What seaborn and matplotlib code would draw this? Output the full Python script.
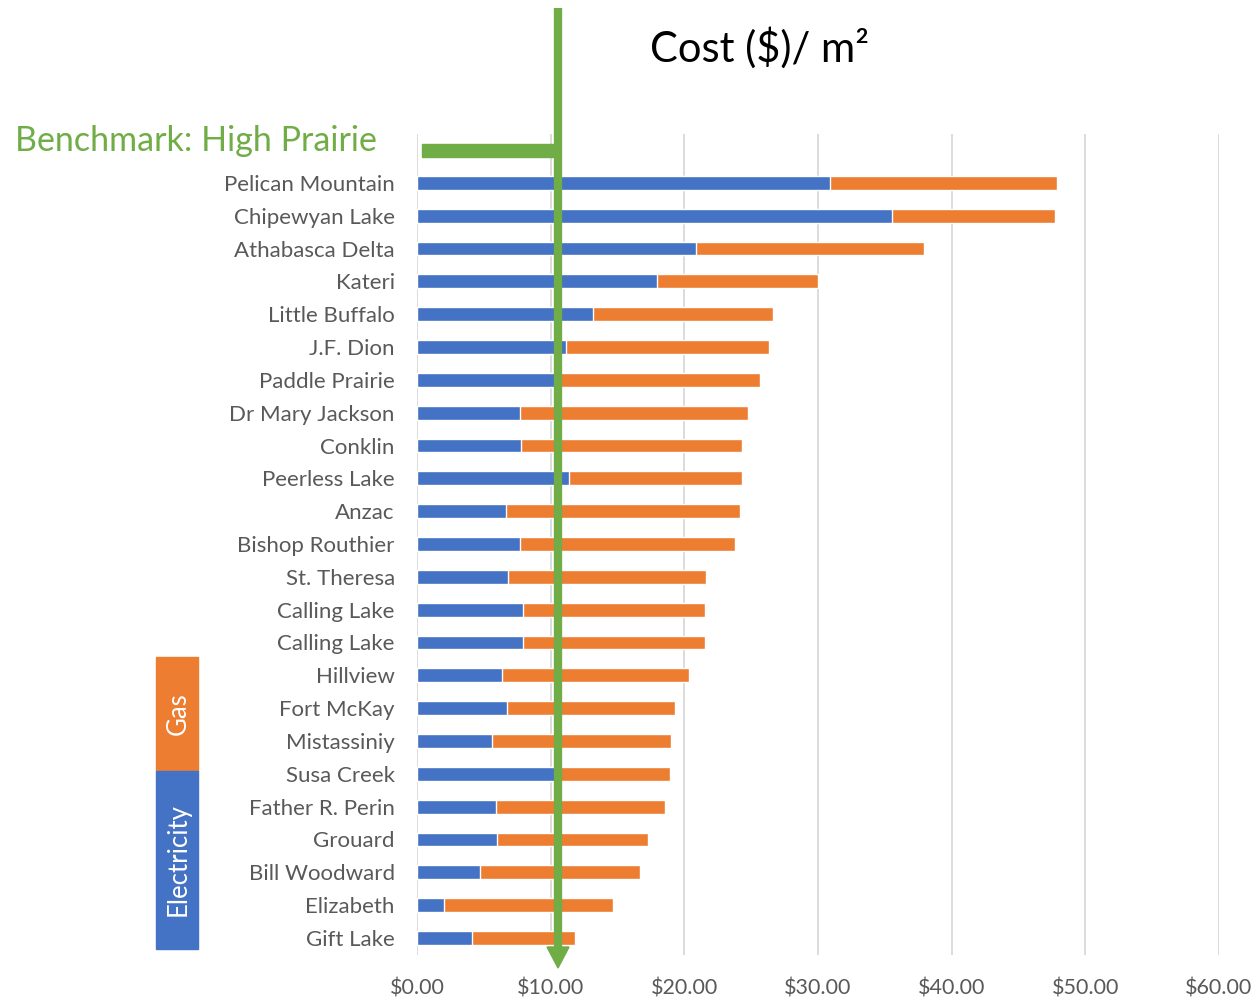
import matplotlib
matplotlib.use("Agg")
import matplotlib.pyplot as plt
import seaborn as sns
import pandas as pd
from matplotlib.patches import Rectangle, Polygon
from matplotlib.ticker import FuncFormatter
from matplotlib.transforms import blended_transform_factory

schools = ["Pelican Mountain", "Chipewyan Lake", "Athabasca Delta", "Kateri",
           "Little Buffalo", "J.F. Dion", "Paddle Prairie", "Dr Mary Jackson",
           "Conklin", "Peerless Lake", "Anzac", "Bishop Routhier", "St. Theresa",
           "Calling Lake", "Calling Lake", "Hillview", "Fort McKay", "Mistassiniy",
           "Susa Creek", "Father R. Perin", "Grouard", "Bill Woodward",
           "Elizabeth", "Gift Lake"]
electricity = [30.9, 35.55, 20.9, 17.96, 13.17, 11.15, 10.3, 7.7, 7.78, 11.38,
               6.66, 7.7, 6.8, 7.93, 7.93, 6.36, 6.74, 5.61, 10.3, 5.91, 5.99,
               4.72, 2.02, 4.12]
total = [47.9, 47.7, 37.95, 30.0, 26.65, 26.35, 25.67, 24.78, 24.33, 24.33,
         24.18, 23.8, 21.63, 21.56, 21.56, 20.36, 19.31, 19.01, 18.94, 18.56,
         17.29, 16.69, 14.67, 11.83]
benchmark = 10.55
benchmark_label = "Benchmark: High Prairie"
title = "Cost ($)/ m\u00b2"
x_ticks = [0, 10, 20, 30, 40, 50, 60]

BLUE = "#4472C4"
ORANGE = "#ED7D31"
GREEN = "#70AD47"
GRID = "#D9D9D9"
TXT = "#595959"

sns.set_theme(style="white")
plt.rcParams["font.family"] = ["Lato", "DejaVu Sans"]

df = pd.DataFrame({"pos": list(range(len(schools))), "school": schools,
                   "electricity": electricity, "total": total})

fig = plt.figure(figsize=(12.55, 10), dpi=100)
ax = fig.add_axes([417 / 1255, 0.045, (1219 - 417) / 1255, 0.821])

sns.barplot(data=df, x="total", y="pos", orient="h", color=ORANGE,
            width=0.42, ax=ax, saturation=1, zorder=2)
sns.barplot(data=df, x="electricity", y="pos", orient="h", color=BLUE,
            width=0.42, ax=ax, saturation=1, zorder=3)

ax.set_xlim(0, 60)
ax.set_ylim(23.52, -1.49)
ax.set_xticks(x_ticks)
ax.xaxis.set_major_formatter(FuncFormatter(lambda v, p: f"${v:.2f}"))
ax.set_yticks(range(len(schools)))
ax.set_yticklabels(schools)
ax.set_xlabel("")
ax.set_ylabel("")
for s in ax.spines.values():
    s.set_visible(False)
ax.grid(axis="x", color=GRID, lw=1.3, zorder=0)
ax.set_axisbelow(True)
ax.tick_params(axis="y", length=0, pad=16, labelsize=16, labelcolor=TXT)
ax.tick_params(axis="x", length=0, pad=17, labelsize=15.5, labelcolor=TXT)

# benchmark arrow
btr = blended_transform_factory(ax.transData, fig.transFigure)
ax.plot([benchmark, benchmark], [1 - 8 / 1000, 1 - 950 / 1000], transform=btr,
        color=GREEN, lw=6, clip_on=False, zorder=6, solid_capstyle="butt")
hw = 11 / 1255 * 60 / ((1219 - 417) / 1255)
head = Polygon([[benchmark - hw, 1 - 947 / 1000], [benchmark + hw, 1 - 947 / 1000],
                [benchmark, 1 - 968 / 1000]], closed=True, transform=btr,
               color=GREEN, clip_on=False, zorder=6)
ax.add_patch(head)
# horizontal benchmark bar
fig.patches.append(Rectangle((422 / 1255, 1 - 157 / 1000), (560 - 422) / 1255,
                             13 / 1000, transform=fig.transFigure, color=GREEN,
                             zorder=5))
fig.text(15 / 1255, 1 - 141 / 1000, benchmark_label, color=GREEN, fontsize=24.5,
         va="center", ha="left")

fig.text(760 / 1255, 1 - 48 / 1000, title, color="black",
         fontsize=30, va="center", ha="center")

# legend boxes
fig.patches.append(Rectangle((156 / 1255, 1 - 771 / 1000), 42 / 1255, 114 / 1000,
                             transform=fig.transFigure, color=ORANGE))
fig.patches.append(Rectangle((156 / 1255, 1 - 949 / 1000), 42 / 1255, 178 / 1000,
                             transform=fig.transFigure, color=BLUE))
fig.text(178 / 1255, 1 - 714 / 1000, "Gas", color="white", fontsize=18.5,
         rotation=90, ha="center", va="center")
fig.text(178 / 1255, 1 - 860 / 1000, "Electricity", color="white", fontsize=18.5,
         rotation=90, ha="center", va="center")

fig.savefig("out.png", dpi=100)
